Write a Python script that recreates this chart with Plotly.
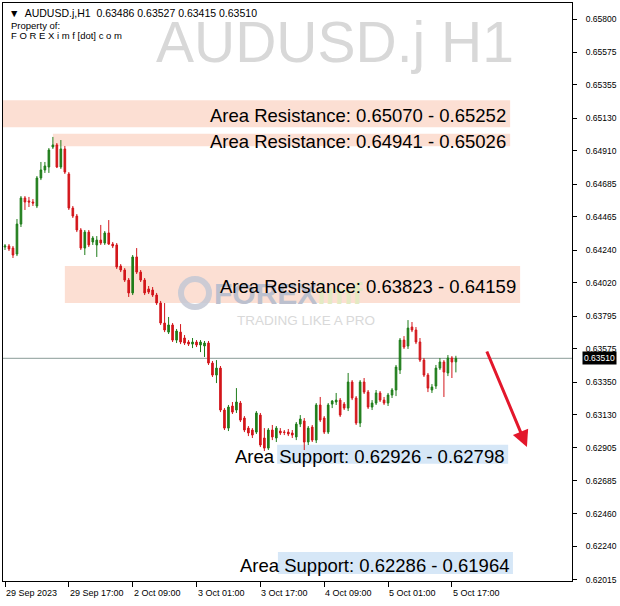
import plotly.graph_objects as go

# ---------------- data (H1 bars, 29 Sep 2023 -> 5 Oct 2023 18:00) ----------------
bar_index = list(range(114))

open_ = [0.64261, 0.64268, 0.64254, 0.64214, 0.64416, 0.64592, 0.64572, 0.64565, 0.64538, 0.64727,
         0.64781, 0.64801, 0.64936, 0.64950, 0.64801, 0.64923, 0.64754, 0.64524, 0.64470, 0.64376,
         0.64254, 0.64362, 0.64295, 0.64275, 0.64308, 0.64288, 0.64356, 0.64281, 0.64275, 0.64133,
         0.64106, 0.64038, 0.63951, 0.64194, 0.64092, 0.64038, 0.63978, 0.63971, 0.63937, 0.63883,
         0.63748, 0.63687, 0.63735, 0.63633, 0.63687, 0.63647, 0.63620, 0.63606, 0.63620, 0.63600,
         0.63593, 0.63613, 0.63478, 0.63397, 0.63444, 0.63161, 0.63039, 0.63188, 0.63161, 0.63208,
         0.63107, 0.63039, 0.63026, 0.63012, 0.63127, 0.62972, 0.62904, 0.63026, 0.62972, 0.63019,
         0.63012, 0.63012, 0.63006, 0.62979, 0.63066, 0.63087, 0.62945, 0.63046, 0.62958, 0.63195,
         0.63107, 0.63012, 0.63201, 0.63215, 0.63228, 0.63201, 0.63174, 0.63350, 0.63242, 0.63073,
         0.63350, 0.63282, 0.63181, 0.63208, 0.63276, 0.63228, 0.63208, 0.63262, 0.63296, 0.63431,
         0.63633, 0.63593, 0.63721, 0.63701, 0.63620, 0.63498, 0.63397, 0.63296, 0.63323, 0.63444,
         0.63485, 0.63411, 0.63512, 0.63486]

high = [0.64281, 0.64281, 0.64268, 0.64450, 0.64605, 0.64605, 0.64599, 0.64585, 0.64740, 0.64835,
        0.64835, 0.64929, 0.65004, 0.64963, 0.64983, 0.64943, 0.64767, 0.64538, 0.64484, 0.64389,
        0.64376, 0.64376, 0.64335, 0.64335, 0.64410, 0.64369, 0.64443, 0.64295, 0.64288, 0.64146,
        0.64119, 0.64052, 0.64207, 0.64254, 0.64106, 0.64052, 0.63998, 0.63991, 0.63951, 0.63897,
        0.63883, 0.63789, 0.63748, 0.63708, 0.63741, 0.63667, 0.63633, 0.63647, 0.63633, 0.63633,
        0.63627, 0.63627, 0.63492, 0.63498, 0.63458, 0.63174, 0.63195, 0.63215, 0.63309, 0.63222,
        0.63120, 0.63053, 0.63039, 0.63154, 0.63141, 0.63039, 0.63039, 0.63060, 0.63053, 0.63039,
        0.63026, 0.63033, 0.63026, 0.63080, 0.63127, 0.63107, 0.63053, 0.63060, 0.63208, 0.63249,
        0.63120, 0.63208, 0.63228, 0.63276, 0.63242, 0.63215, 0.63411, 0.63363, 0.63255, 0.63363,
        0.63377, 0.63296, 0.63228, 0.63296, 0.63289, 0.63249, 0.63276, 0.63309, 0.63465, 0.63647,
        0.63660, 0.63768, 0.63755, 0.63721, 0.63647, 0.63512, 0.63411, 0.63336, 0.63465, 0.63512,
        0.63498, 0.63532, 0.63525, 0.63527]

low = [0.64241, 0.64234, 0.64187, 0.64200, 0.64396, 0.64511, 0.64531, 0.64538, 0.64524, 0.64713,
       0.64761, 0.64761, 0.64923, 0.64794, 0.64788, 0.64754, 0.64511, 0.64457, 0.64362, 0.64241,
       0.64207, 0.64261, 0.64275, 0.64194, 0.64275, 0.64275, 0.64275, 0.64254, 0.64113, 0.64092,
       0.64025, 0.63924, 0.63937, 0.64079, 0.64025, 0.63937, 0.63944, 0.63924, 0.63870, 0.63735,
       0.63687, 0.63674, 0.63620, 0.63613, 0.63606, 0.63600, 0.63593, 0.63579, 0.63586, 0.63552,
       0.63519, 0.63465, 0.63384, 0.63343, 0.63147, 0.63026, 0.63019, 0.63134, 0.63141, 0.63080,
       0.63012, 0.62985, 0.62972, 0.62999, 0.62911, 0.62884, 0.62891, 0.62958, 0.62945, 0.62992,
       0.62992, 0.62985, 0.62972, 0.62958, 0.63046, 0.62891, 0.62925, 0.62945, 0.62938, 0.63080,
       0.62999, 0.62999, 0.63174, 0.63195, 0.63114, 0.63161, 0.63154, 0.63228, 0.63060, 0.63046,
       0.63269, 0.63168, 0.63161, 0.63195, 0.63215, 0.63195, 0.63188, 0.63242, 0.63255, 0.63404,
       0.63573, 0.63573, 0.63687, 0.63606, 0.63485, 0.63384, 0.63282, 0.63276, 0.63303, 0.63431,
       0.63249, 0.63390, 0.63377, 0.63415]

close = [0.64268, 0.64248, 0.64207, 0.64416, 0.64592, 0.64565, 0.64565, 0.64558, 0.64727, 0.64781,
         0.64808, 0.64916, 0.64950, 0.64801, 0.64923, 0.64767, 0.64524, 0.64470, 0.64376, 0.64254,
         0.64362, 0.64275, 0.64322, 0.64308, 0.64288, 0.64356, 0.64281, 0.64268, 0.64126, 0.64106,
         0.64038, 0.63951, 0.64194, 0.64092, 0.64038, 0.63951, 0.63957, 0.63937, 0.63883, 0.63748,
         0.63701, 0.63735, 0.63633, 0.63694, 0.63620, 0.63613, 0.63606, 0.63620, 0.63600, 0.63620,
         0.63613, 0.63478, 0.63397, 0.63444, 0.63161, 0.63039, 0.63181, 0.63147, 0.63215, 0.63093,
         0.63026, 0.63006, 0.62992, 0.63141, 0.62925, 0.62904, 0.63026, 0.62979, 0.63039, 0.63006,
         0.63010, 0.62999, 0.62992, 0.63066, 0.63100, 0.62945, 0.63039, 0.62958, 0.63195, 0.63093,
         0.63012, 0.63195, 0.63222, 0.63228, 0.63127, 0.63174, 0.63350, 0.63242, 0.63073, 0.63350,
         0.63282, 0.63181, 0.63208, 0.63276, 0.63228, 0.63208, 0.63262, 0.63296, 0.63451, 0.63633,
         0.63586, 0.63714, 0.63701, 0.63620, 0.63498, 0.63397, 0.63309, 0.63316, 0.63444, 0.63485,
         0.63417, 0.63512, 0.63485, 0.63510]

time_ticks = [0, 16, 32, 48, 64, 80, 96, 112]
time_labels = ["29 Sep 2023", "29 Sep 17:00", "2 Oct 09:00", "3 Oct 01:00",
               "3 Oct 17:00", "4 Oct 09:00", "5 Oct 01:00", "5 Oct 17:00"]

price_ticks = [0.65800, 0.65575, 0.65355, 0.65130, 0.64910, 0.64685, 0.64465, 0.64240, 0.64020,
               0.63795, 0.63575, 0.63350, 0.63130, 0.62905, 0.62685, 0.62460, 0.62240, 0.62015]
price_labels = ["0.65800", "0.65575", "0.65355", "0.65130", "0.64910", "0.64685", "0.64465",
                "0.64240", "0.64020", "0.63795", "0.63575", "0.63350", "0.63130", "0.62905",
                "0.62685", "0.62460", "0.62240", "0.62015"]

last_price = 0.63510
last_price_label = "0.63510"
header_text = "▼  AUDUSD.j,H1  0.63486 0.63527 0.63415 0.63510"

zone_kind = ["res", "res", "res", "sup", "sup"]
zone_text = ["Area Resistance: 0.65070 - 0.65252",
             "Area Resistance: 0.64941 - 0.65026",
             "Area Resistance: 0.63823 - 0.64159",
             "Area Support: 0.62926 - 0.62798",
             "Area Support: 0.62286 - 0.61964"]
zone_low = [0.65070, 0.64941, 0.63883, 0.62798, 0.62054]
zone_high = [0.65252, 0.65026, 0.64133, 0.62926, 0.62202]
zone_start = [-2.0, 12.0, 15.0, 68.2, 68.4]
zone_end = [126.6, 126.6, 129.1, 126.1, 127.3]

arrow_from = (120.6, 0.63566)
arrow_to = (130.8, 0.62911)

# ---------------- figure ----------------
W, H = 620, 606
ML, MR, MT, MB = 3, 48, 3, 25
PW, PH = W - ML - MR, H - MT - MB


def px(xp):
    return (xp - ML) / PW


def py(yp):
    return 1 - (yp - MT) / PH


GREEN = "#1f7d1a"
RED = "#d3161b"
FONT = "Liberation Sans, Arial, sans-serif"

fig = go.Figure()

fig.add_trace(go.Candlestick(
    x=bar_index, open=open_, high=high, low=low, close=close,
    increasing=dict(line=dict(color=GREEN, width=1), fillcolor=GREEN),
    decreasing=dict(line=dict(color=RED, width=1), fillcolor=RED),
    whiskerwidth=0, hoverinfo="skip", showlegend=False,
))

shapes = []
for kind, lo, hi, x0, x1 in zip(zone_kind, zone_low, zone_high, zone_start, zone_end):
    shapes.append(dict(type="rect", xref="x", yref="y", x0=x0, x1=x1, y0=lo, y1=hi,
                       fillcolor="#fcdfd3" if kind == "res" else "#d6e7f7",
                       line=dict(width=0), layer="below"))

shapes.append(dict(type="line", xref="paper", yref="y", x0=0, x1=1, y0=last_price, y1=last_price,
                   line=dict(color="#8a9c98", width=1), layer="below"))

# logo ring (watermark)
shapes.append(dict(type="circle", xref="paper", yref="paper",
                   x0=px(181), x1=px(209), y0=py(307), y1=py(279),
                   line=dict(color="#c4c8d5", width=6), layer="above", opacity=0.85))

annotations = []

# watermark symbol
annotations.append(dict(xref="paper", yref="paper", x=px(335), y=py(42), text="AUDUSD.j H1",
                        showarrow=False, xanchor="center", yanchor="middle",
                        font=dict(family=FONT, size=57, color="#d8d8d8")))

# FOREXimf logo text
annotations.append(dict(xref="paper", yref="paper", x=px(212), y=py(293),
                        text="<b><span style='color:#bcc0ce'>FOREX</span><span style='color:#e3eac3'>imf</span></b>",
                        showarrow=False, xanchor="left", yanchor="middle",
                        font=dict(family=FONT, size=30, color="#bcc0ce")))
annotations.append(dict(xref="paper", yref="paper", x=px(235), y=py(320), text="TRADING LIKE A PRO",
                        showarrow=False, xanchor="left", yanchor="middle",
                        font=dict(family=FONT, size=13.5, color="#d9d9d9")))

# header
annotations.append(dict(xref="paper", yref="paper", x=px(7), y=py(13), text=header_text,
                        showarrow=False, xanchor="left", yanchor="middle",
                        font=dict(family=FONT, size=10.5, color="#000000")))
annotations.append(dict(xref="paper", yref="paper", x=px(9), y=py(25), text="Property of:",
                        showarrow=False, xanchor="left", yanchor="middle",
                        font=dict(family=FONT, size=9.5, color="#000000")))
annotations.append(dict(xref="paper", yref="paper", x=px(9), y=py(36),
                        text="F O R E X i m f [dot] c o m",
                        showarrow=False, xanchor="left", yanchor="middle",
                        font=dict(family=FONT, size=9.5, color="#000000")))

# zone labels
for txt, lo, hi, x1 in zip(zone_text, zone_low, zone_high, zone_end):
    annotations.append(dict(xref="x", yref="y", x=x1 - 0.5, y=(lo + hi) / 2, text=txt,
                            showarrow=False, xanchor="right", yanchor="middle", yshift=-2,
                            font=dict(family=FONT, size=18.5, color="#000000")))

# time labels (to the right of each tick, MT4 style)
for t, lab in zip(time_ticks, time_labels):
    annotations.append(dict(xref="x", yref="paper", x=t, y=0, text=lab, showarrow=False,
                            xanchor="left", yanchor="top", xshift=-1, yshift=-5,
                            font=dict(family=FONT, size=9, color="#000000")))

# last price label
annotations.append(dict(xref="paper", yref="y", x=1, y=last_price, text=last_price_label,
                        showarrow=False, xanchor="left", yanchor="middle", xshift=10,
                        bgcolor="#000000", borderpad=1,
                        font=dict(family=FONT, size=8.5, color="#ffffff")))

# red arrow
annotations.append(dict(xref="x", yref="y", axref="x", ayref="y",
                        x=arrow_to[0], y=arrow_to[1], ax=arrow_from[0], ay=arrow_from[1],
                        text="", showarrow=True, arrowhead=2, arrowsize=1.1, arrowwidth=3,
                        arrowcolor="#e3172b", standoff=0))

fig.update_layout(
    width=W, height=H,
    margin=dict(l=ML, r=MR, t=MT, b=MB),
    paper_bgcolor="#ffffff", plot_bgcolor="#ffffff",
    showlegend=False,
    boxgap=0.42,
    shapes=shapes,
    annotations=annotations,
    xaxis=dict(range=[-0.5, 142.1], rangeslider=dict(visible=False),
               tickmode="array", tickvals=time_ticks, showticklabels=False,
               ticks="outside", ticklen=5, tickcolor="#000000",
               showgrid=False, zeroline=False,
               showline=True, mirror=True, linecolor="#000000", linewidth=1),
    yaxis=dict(range=[0.62007, 0.65908], side="right",
               tickmode="array", tickvals=price_ticks, ticktext=price_labels,
               ticks="outside", ticklen=4, tickcolor="#000000",
               ticklabelstandoff=7,
               tickfont=dict(family=FONT, size=8.5, color="#000000"),
               showgrid=False, zeroline=False,
               showline=True, mirror=True, linecolor="#000000", linewidth=1),
    hovermode=False,
)

fig.write_html("out.html", config={"displayModeBar": False},
               post_script="document.body.style.margin='0px';")
